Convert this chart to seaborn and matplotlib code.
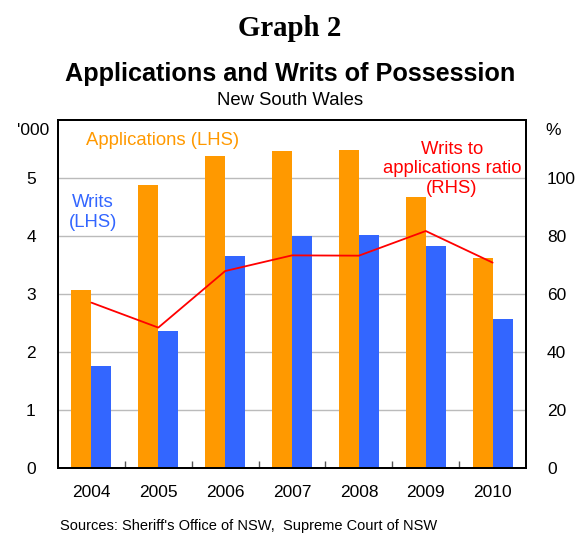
import numpy as np
import pandas as pd
import matplotlib
matplotlib.use("Agg")
import matplotlib.pyplot as plt
import seaborn as sns

years = ["2004", "2005", "2006", "2007", "2008", "2009", "2010"]
applications = [3.07, 4.88, 5.37, 5.47, 5.48, 4.67, 3.62]
writs = [1.76, 2.36, 3.66, 4.00, 4.02, 3.83, 2.56]
ratio = [57.0, 48.4, 67.9, 73.3, 73.2, 81.7, 70.8]
left_ticks = [0, 1, 2, 3, 4, 5]
right_ticks = [0, 20, 40, 60, 80, 100]

sns.set_theme(style="white")
plt.rcParams['font.family'] = ['Liberation Sans', 'DejaVu Sans']
plt.rcParams['text.color'] = 'black'
plt.rcParams['xtick.color'] = 'black'
plt.rcParams['ytick.color'] = 'black'
plt.rcParams['xtick.labelcolor'] = 'black'
plt.rcParams['ytick.labelcolor'] = 'black'

ORANGE = "#FF9900"
BLUE = "#3366FF"
RED = "#FF0000"

df = pd.DataFrame({
    "year": years * 2,
    "value": applications + writs,
    "series": ["Applications"] * len(years) + ["Writs"] * len(years),
})

fig = plt.figure(figsize=(5.8, 5.33), dpi=100)
ax = fig.add_axes([0.1, 0.122, 0.807, 0.653])

sns.barplot(data=df, x="year", y="value", hue="series",
            palette={"Applications": ORANGE, "Writs": BLUE},
            width=0.6, saturation=1, gap=0, legend=False, ax=ax,
            linewidth=0, zorder=2)

ax.set_xlim(-0.5, len(years) - 0.5)
ax.set_ylim(0, 6)
ax.set_yticks(left_ticks)
ax.set_yticklabels([str(t) for t in left_ticks])
ax.set_xlabel("")
ax.set_ylabel("")
for y in left_ticks[1:]:
    ax.axhline(y, color="#BBBBBB", lw=1.0, zorder=1)

ax.set_xticks(np.arange(len(years)))
ax.set_xticks(np.arange(len(years) - 1) + 0.5, minor=True)
ax.tick_params(axis="x", which="major", bottom=True, length=0, labelsize=12.5, pad=12,
               labelcolor="black")
ax.tick_params(axis="x", which="minor", bottom=True, direction="in", length=5, width=1,
               color="#555555")
ax.tick_params(axis="y", length=0, labelsize=12.5, pad=16, labelcolor="black")

ax2 = ax.twinx()
sns.lineplot(x=np.arange(len(years)), y=ratio, color=RED, lw=1.3, ax=ax2, zorder=3)
ax2.set_ylim(0, 120)
ax2.set_yticks(right_ticks)
ax2.set_yticklabels([str(t) for t in right_ticks])
ax2.tick_params(axis="y", length=0, labelsize=12.5, pad=15, labelcolor="black")
ax2.set_xlim(-0.5, len(years) - 0.5)

for a in (ax, ax2):
    for s in a.spines.values():
        s.set_color("black")
        s.set_linewidth(1.4)

# axis unit labels
fig.text(0.057, 0.755, "'000", fontsize=12.5, ha="center", va="center", color="black")
fig.text(0.953, 0.755, "%", fontsize=12.5, ha="center", va="center", color="black")

# series annotations
fig.text(0.281, 0.737, "Applications (LHS)", color=ORANGE, fontsize=13.3, ha="center", va="center")
fig.text(0.16, 0.601, "Writs\n(LHS)", color=BLUE, fontsize=13.3, ha="center", va="center",
         linespacing=1.2)
fig.text(0.779, 0.683, "Writs to\napplications ratio\n(RHS)", color=RED, fontsize=13.3,
         ha="center", va="center", linespacing=1.2)

# titles
fig.text(0.5, 0.947, "Graph 2", fontsize=20.8, fontweight="bold", ha="center", va="center",
         family=["Liberation Serif", "DejaVu Serif"], color="black")
fig.text(0.5, 0.861, "Applications and Writs of Possession", fontsize=18.2, fontweight="bold",
         ha="center", va="center", color="black")
fig.text(0.5, 0.812, "New South Wales", fontsize=13.3, ha="center", va="center", color="black")

fig.text(0.103, 0.0, "Sources: Sheriff's Office of NSW,  Supreme Court of NSW", fontsize=10.5,
         ha="left", va="bottom", color="black")

fig.savefig("out.png", dpi=100, facecolor="white")
